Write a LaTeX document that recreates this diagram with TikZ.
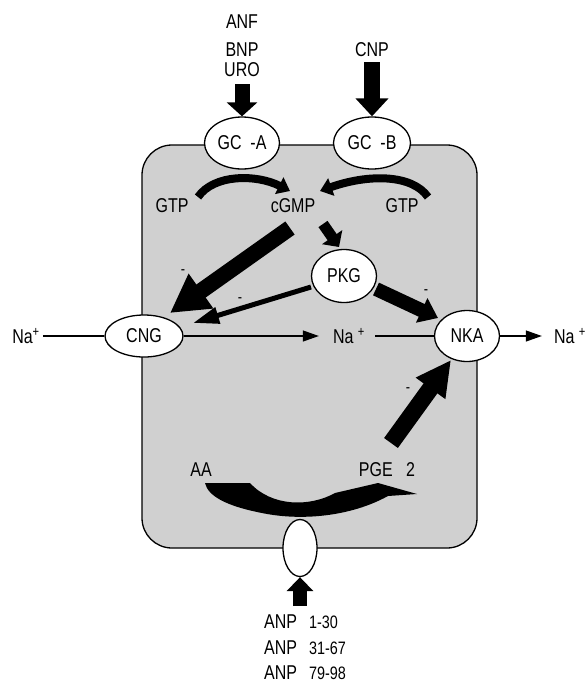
\documentclass[tikz,border=0pt]{standalone}
\usepackage{fontspec}
\setmainfont{Liberation Sans}[FakeStretch=0.8]
\usetikzlibrary{arrows.meta,shapes.geometric}
\definecolor{cellgray}{RGB}{208,208,208}
\begin{document}
\begin{tikzpicture}[x=1pt,y=-1pt,
    lbl/.style={font=\fontsize{20}{22}\selectfont, inner sep=0pt},
    minus/.style={font=\fontsize{16}{18}\selectfont, inner sep=0pt},
    recep/.style={draw, line width=1.3pt, ellipse, fill=white, inner sep=0pt,
      font=\fontsize{20}{22}\selectfont},
    ionline/.style={line width=1.2pt},
  ]
    \useasboundingbox (0,0) rectangle (588,686);
    % the cell
    \draw [line width=1.3pt, fill=cellgray, rounded corners=30pt] (142,145) rectangle (477,548);

    % receptors and channels
    \node [recep, minimum width=75pt, minimum height=52pt] (gca) at (242,143) {GC\ \ -A};
    \node [recep, minimum width=77pt, minimum height=52pt] (gcb) at (372,143) {GC\ \ -B};
    \node [recep, minimum width=78pt, minimum height=42pt] (cng) at (144,336) {CNG};
    \node [recep, minimum width=65pt, minimum height=53pt] (pkg) at (344,276) {PKG};
    \node [recep, minimum width=65pt, minimum height=51pt] (nka) at (467,336) {NKA};
    \node [recep, minimum width=34pt, minimum height=57pt] (npr) at (300,548) {};

    % ligands
    \node [lbl] (anf) at (242,22) {ANF};
    \node [lbl] (bnp) at (242,50) {BNP};
    \node [lbl] (uro) at (242,70) {URO};
    \node [lbl] (cnp) at (372,50) {CNP};
    \node [lbl, anchor=west] (anpa) at (264,622) {ANP\hspace{12pt}{\fontsize{18}{20}\selectfont 1-30}};
    \node [lbl, anchor=west] (anpb) at (264,648) {ANP\hspace{12pt}{\fontsize{18}{20}\selectfont 31-67}};
    \node [lbl, anchor=west] (anpc) at (264,673) {ANP\hspace{12pt}{\fontsize{18}{20}\selectfont 79-98}};

    % messengers
    \node [lbl] (gtpl) at (172,206) {GTP};
    \node [lbl] (cgmp) at (293,206) {cGMP};
    \node [lbl] (gtpr) at (402,206) {GTP};
    \node [lbl] (aa) at (201,470) {AA};
    \node [lbl] (pge) at (387,470) {PGE\ \ \ 2};

    % sodium
    \node [lbl] (nal) at (26,336) {Na\textsuperscript{+}};
    \node [lbl] (nam) at (349,336) {Na\ \textsuperscript{+}};
    \node [lbl] (nar) at (570,336) {Na\ \textsuperscript{+}};
    \draw [ionline, shorten <=3pt] (nal.east |- cng) -- (cng);
    \draw [ionline, shorten >=14pt, -{Triangle[width=11pt,length=16pt]}] (cng) -- (nam.west |- cng);
    \draw [ionline, shorten <=10pt] (nam.east |- nka) -- (nka);
    \draw [ionline, shorten >=12pt, -{Triangle[width=11pt,length=16pt]}] (nka) -- (nar.west |- nka);

    % ligand arrows
    \coordinate (anfend) at (242,84);
    \coordinate (cnpend) at (372,62);
    \coordinate (anpend) at (300,606);
    \draw [line width=15pt, -{Triangle[width=30pt,length=14pt]}] (anfend) -- (gca.north);
    \draw [line width=16pt, -{Triangle[width=32pt,length=18pt]}] (cnpend) -- (gcb.north);
    \draw [line width=14pt, -{Triangle[width=26pt,length=14pt]}] (anpend) -- (npr.south);

    % GTP -> cGMP
    \draw [line width=8pt, -{Triangle[width=18pt,length=12pt]}]
        (198,197) .. controls (214,174) and (256,174) .. (290,191);
    \draw [line width=8pt, -{Triangle[width=18pt,length=12pt]}]
        (428,197) .. controls (412,174) and (368,174) .. (320,191);

    % cGMP targets
    \coordinate (g1) at (290,228);
    \coordinate (g2) at (170,313);
    \draw [line width=16pt, -{Triangle[width=40pt,length=38pt]}] (g1) -- (g2);
    \coordinate (g3) at (323,224);
    \coordinate (g4) at (339,247);
    \draw [line width=11pt, -{Triangle[width=24pt,length=12pt]}] (g3) -- (g4);
    \coordinate (p1) at (311,287);
    \coordinate (p2) at (193,323);
    \draw [line width=5pt, -{Triangle[width=16pt,length=26pt]}] (p1) -- (p2);
    \coordinate (p3) at (376,289);
    \coordinate (p4) at (438,318);
    \draw [line width=14pt, -{Triangle[width=26pt,length=18pt]}] (p3) -- (p4);

    % AA -> PGE2 -> NKA
    \fill (205,483) -- (250,483) .. controls (272,507) and (310,507) .. (335,493)
        -- (378,483) -- (417,494) -- (388,496)
        .. controls (350,517) and (300,521) .. (262,513)
        .. controls (226,506) and (208,496) .. cycle;
    \coordinate (e1) at (391,443);
    \coordinate (e2) at (451,360);
    \draw [line width=17pt, -{Triangle[width=34pt,length=35pt]}] (e1) -- (e2);

    % inhibitions
    \node [minus] (m1) at (183,272) {-};
    \node [minus] (m2) at (240,300) {-};
    \node [minus] (m3) at (426,292) {-};
    \node [minus] (m4) at (408,390) {-};
\end{tikzpicture}
\end{document}
